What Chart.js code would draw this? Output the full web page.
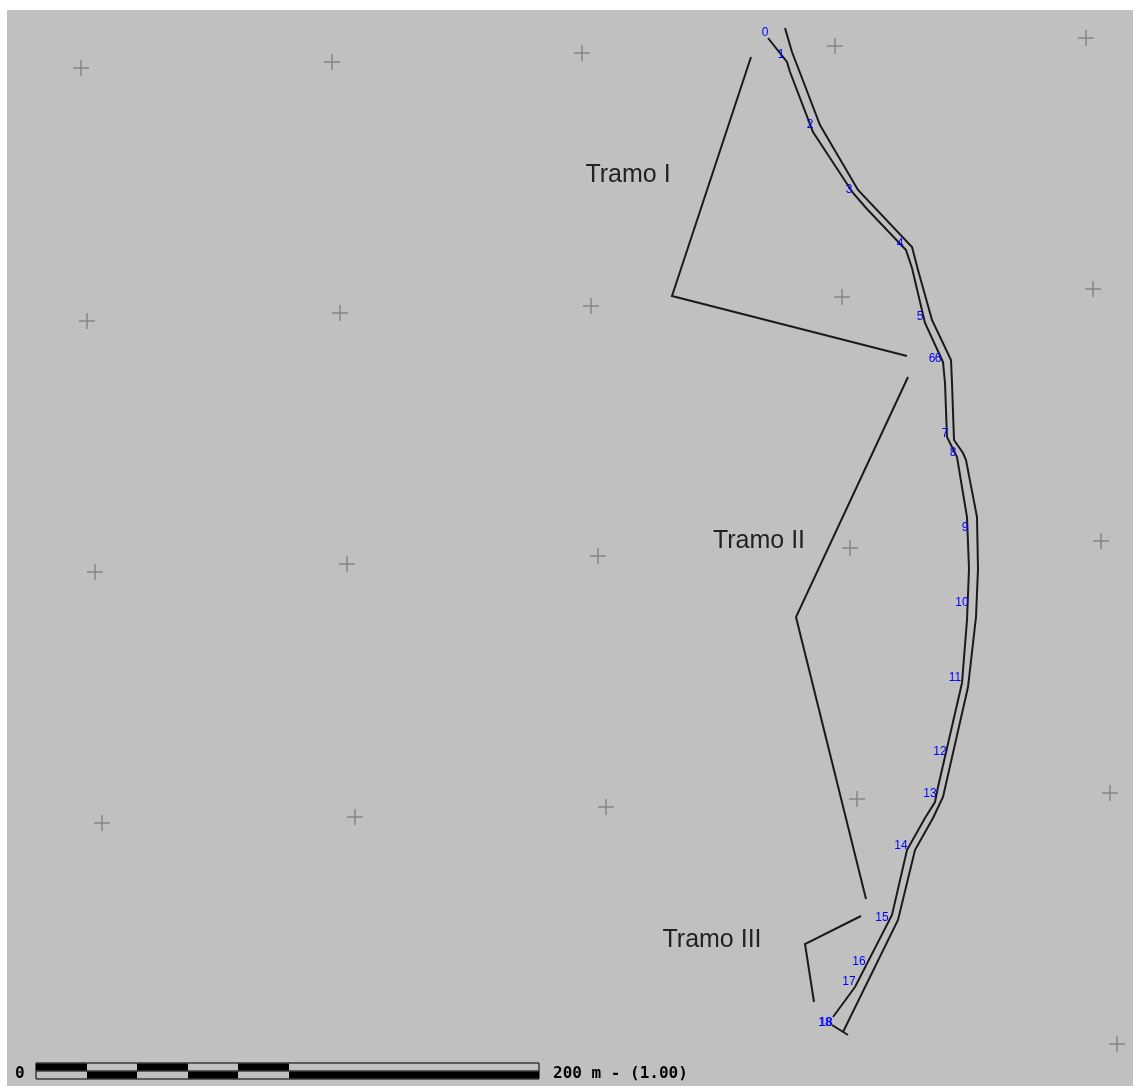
<!DOCTYPE html>
<html>
<head>
<meta charset="utf-8">
<title>Tramos</title>
<style>
  html, body { margin: 0; padding: 0; background: #ffffff; }
  #wrap { position: absolute; left: 7px; top: 10px; width: 1126px; height: 1076px; }
</style>
<script src="https://cdn.jsdelivr.net/npm/chart.js@4/dist/chart.umd.min.js"></script>
</head>
<body>
<div id="wrap"><canvas id="map"></canvas></div>
<script>

// grid crosses
const gridX = [81, 332, 582, 835, 1086, 87, 340, 591, 842, 1093, 95, 347, 598, 850, 1101, 102, 355, 606, 857, 1110, 1117];
const gridY = [68, 62, 53, 46, 38, 321, 313, 306, 297, 289, 572, 564, 556, 548, 541, 823, 817, 807, 799, 793, 1044];

// road edges
const rightEdgeX = [785, 792, 802, 820, 858, 912, 918, 932, 951, 952, 954, 963, 966, 977, 978, 976, 968, 943, 933, 915, 898, 843];
const rightEdgeY = [28, 52, 78, 125, 190, 247, 270, 320, 360, 383, 440, 453, 460, 517, 569, 617, 687, 797, 818, 850, 920, 1032];
const leftEdgeX = [768, 787, 790, 813, 853, 867, 906, 912, 925, 943, 945, 947, 957, 967, 969, 967, 962, 938, 935, 925, 907, 892, 855, 833];
const leftEdgeY = [38, 62, 72, 132, 193, 209, 250, 268, 323, 362, 383, 437, 457, 517, 569, 620, 683, 787, 802, 818, 850, 915, 987, 1017];
const endCapX = [832, 848];
const endCapY = [1025, 1035];

// brackets for the three stretches
const tramoIX = [751, 672, 907];
const tramoIY = [57, 296, 356];
const tramoIIX = [908, 796, 866];
const tramoIIY = [377, 617, 899];
const tramoIIIX = [861, 805, 814];
const tramoIIIY = [916, 944, 1002];

const tramoNames = ["Tramo I", "Tramo II", "Tramo III"];
const tramoNameX = [628, 759, 712];
const tramoNameY = [175, 541, 940];

// section numbers
const sectionNames = ["0", "1", "2", "3", "4", "5", "6", "6", "7", "8", "9", "10", "11", "12", "13", "14", "15", "16", "17", "18", "18"];
const sectionX = [765, 781, 810, 849, 900, 920, 932, 938, 945, 953, 965, 962, 955, 940, 930, 901, 882, 859, 849, 825, 826];
const sectionY = [33, 55, 125, 190, 244, 317, 359, 359, 434, 453, 528, 603, 678, 752, 794, 846, 918, 962, 982, 1023, 1023];

// scale bar
const scaleTicks = [36, 87, 137, 188, 238, 289, 539];
const scaleTopY = 1067;
const scaleBottomY = 1075;
const scaleFrameY = [1063, 1071, 1079];
const scaleStart = "0";
const scaleEnd = "200 m - (1.00)";
const scaleTextX = [15, 553];
const scaleTextY = 1074;

const INK = "#1a1a1a";
const BLUE = "#0000ff";

function pts(xs, ys) {
    return xs.map((x, i) => ({ x, y: ys[i] }));
}

function lineSet(xs, ys, color, width) {
    return {
        data: pts(xs, ys),
        showLine: true,
        pointRadius: 0,
        borderColor: color || INK,
        borderWidth: width || 2,
        tension: 0,
    };
}

// alternating black blocks: every other span of the tick list
function scaleBlocks(firstSpan, y) {
    const data = [];
    for (let i = firstSpan; i < scaleTicks.length - 1; i += 2) {
        data.push({ x: scaleTicks[i], y }, { x: scaleTicks[i + 1], y }, { x: NaN, y: NaN });
    }
    return {
        data,
        showLine: true,
        spanGaps: false,
        pointRadius: 0,
        borderColor: "#000000",
        borderWidth: 7,
        borderCapStyle: "butt",
    };
}

function scaleFrame() {
    const first = scaleTicks[0];
    const last = scaleTicks[scaleTicks.length - 1];
    const data = [];
    scaleFrameY.forEach(y => data.push({ x: first, y }, { x: last, y }, { x: NaN, y: NaN }));
    data.push({ x: first, y: scaleFrameY[0] }, { x: first, y: scaleFrameY[2] }, { x: NaN, y: NaN });
    data.push({ x: last, y: scaleFrameY[0] }, { x: last, y: scaleFrameY[2] });
    return {
        data,
        showLine: true,
        spanGaps: false,
        pointRadius: 0,
        borderColor: "#3a3a3a",
        borderWidth: 1.5,
    };
}

// paints the grey ground and all the text, placed through the chart's scales
const mapText = {
    id: "mapText",
    beforeDraw(chart) {
        const { ctx, width, height } = chart;
        ctx.save();
        ctx.fillStyle = "#c0c0c0";
        ctx.fillRect(0, 0, width, height);
        ctx.restore();
    },
    afterDatasetsDraw(chart) {
        const { ctx, scales } = chart;
        ctx.save();
        ctx.textBaseline = "middle";

        ctx.textAlign = "center";
        ctx.fillStyle = "#222222";
        ctx.font = '25px "Liberation Sans"';
        tramoNames.forEach((t, i) => {
            ctx.fillText(t, scales.x.getPixelForValue(tramoNameX[i]), scales.y.getPixelForValue(tramoNameY[i]));
        });

        ctx.fillStyle = BLUE;
        ctx.font = '12px "Liberation Sans"';
        sectionNames.forEach((t, i) => {
            ctx.fillText(t, scales.x.getPixelForValue(sectionX[i]), scales.y.getPixelForValue(sectionY[i]));
        });

        ctx.textAlign = "left";
        ctx.fillStyle = "#000000";
        ctx.font = 'bold 16px "DejaVu Sans Mono"';
        ctx.fillText(scaleStart, scales.x.getPixelForValue(scaleTextX[0]), scales.y.getPixelForValue(scaleTextY));
        ctx.fillText(scaleEnd, scales.x.getPixelForValue(scaleTextX[1]), scales.y.getPixelForValue(scaleTextY));
        ctx.restore();
    },
};

new Chart(document.getElementById("map"), {
    type: "scatter",
    data: {
        datasets: [
            {
                data: pts(gridX, gridY),
                pointStyle: "cross",
                pointRadius: 8,
                pointBorderColor: "#858585",
                pointBorderWidth: 1.5,
            },
            lineSet(rightEdgeX, rightEdgeY),
            lineSet(leftEdgeX, leftEdgeY),
            lineSet(endCapX, endCapY),
            lineSet(tramoIX, tramoIY),
            lineSet(tramoIIX, tramoIIY),
            lineSet(tramoIIIX, tramoIIIY),
            scaleBlocks(0, scaleTopY),
            scaleBlocks(1, scaleBottomY),
            scaleFrame(),
        ],
    },
    options: {
        responsive: true,
        maintainAspectRatio: false,
        animation: false,
        layout: { padding: 0, autoPadding: false },
        plugins: { legend: { display: false }, tooltip: { enabled: false } },
        scales: {
            x: { type: "linear", display: false, min: 7, max: 1133 },
            y: { type: "linear", display: false, min: 10, max: 1086, reverse: true },
        },
    },
    plugins: [mapText],
});
</script>
</body>
</html>
